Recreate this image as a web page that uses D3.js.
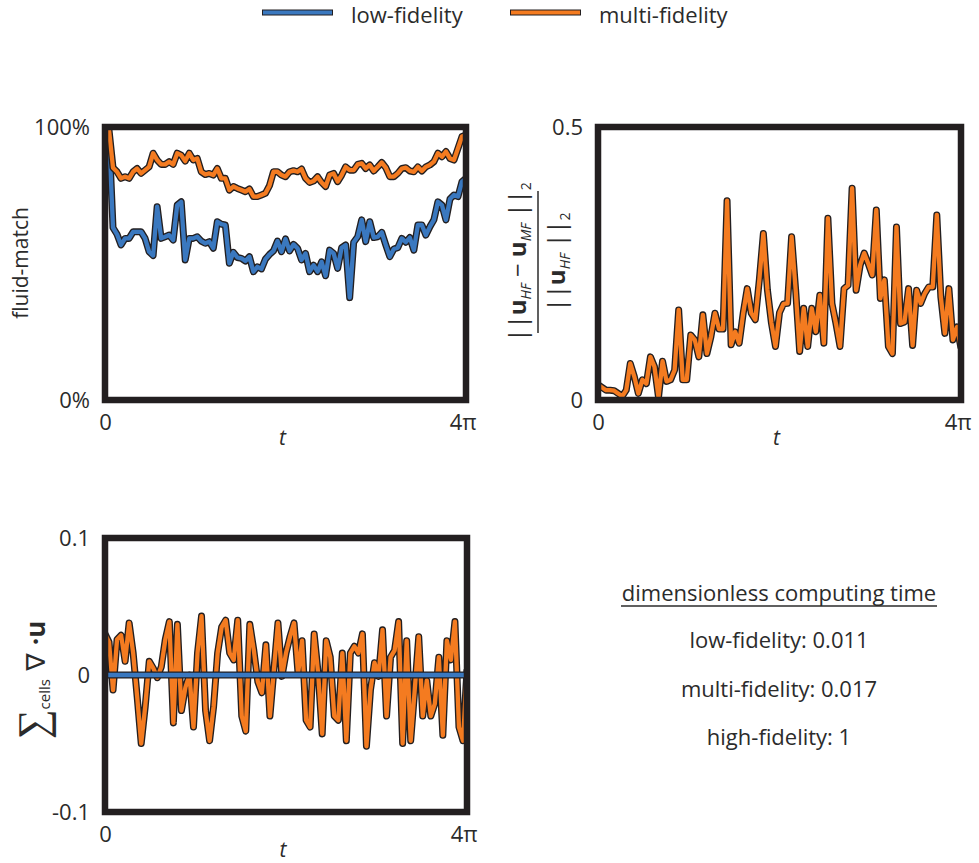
<!DOCTYPE html>
<html>
<head>
<meta charset="utf-8">
<script src="https://cdn.jsdelivr.net/npm/d3@7"></script>
<style>
  body { margin: 0; background: #fff; }
  text { font-family: "Open Sans", "Noto Sans", sans-serif; fill: #2b2b2b; }
</style>
</head>
<body>
<div id="chart"></div>
<script>
// legend / series names
const seriesNames = ["low-fidelity", "multi-fidelity"];
const seriesColors = ["#3a78bf", "#f47b20"];

// fluid-match in percent, sampled evenly over t in [0, 4pi]
const fluidMatchLow = [100, 97, 63.1, 60.7, 56.8, 59.2, 59.2, 61.6, 61.6, 61.6, 59.2, 54.3, 52.9, 70.8, 59.2, 59.8,
  60.4, 58.6, 71.4, 72.6, 51.3, 59.2, 59.2, 59.8, 58.2, 57.4, 58.0, 55.6, 65.3, 64.4, 64.1, 50.1, 54.1, 52.2, 51.9,
  50.9, 52.5, 47.0, 48.8, 48.0, 51.6, 53.3, 54.6, 58.2, 54.3, 59.0, 54.6, 57.0, 55.6, 51.3, 53.7, 47.0, 49.4, 47.0,
  50.6, 45.5, 54.9, 53.7, 48.2, 55.8, 56.8, 37.5, 57.8, 59.8, 66.0, 58.0, 65.3, 59.5, 59.8, 61.4, 56.8, 52.5, 55.3,
  55.8, 59.2, 57.8, 59.5, 54.9, 64.1, 64.1, 60.4, 63.5, 66.0, 72.6, 71.4, 66.0, 73.6, 75.1, 74.5, 80.0, 81.2];
const fluidMatchMulti = [100, 98.9, 85.1, 83.6, 81.2, 81.8, 81.2, 83.6, 84.8, 83.0, 84.2, 85.4, 90.4, 87.9, 86.3, 86.3,
  87.3, 86.3, 90.4, 89.7, 87.5, 90.4, 87.9, 88.5, 83.6, 82.6, 83.0, 82.4, 84.8, 81.2, 81.2, 76.9, 78.2, 77.5, 76.9,
  76.3, 77.3, 74.5, 74.5, 75.1, 75.7, 78.5, 83.6, 83.6, 82.4, 81.8, 83.6, 84.0, 83.6, 84.6, 81.2, 79.7, 80.2, 81.8,
  79.7, 78.2, 82.4, 83.0, 80.0, 82.4, 85.4, 84.2, 84.2, 86.3, 86.7, 84.8, 86.1, 83.9, 85.4, 87.0, 85.1, 81.8, 81.8,
  83.0, 84.8, 85.1, 83.9, 83.6, 85.4, 83.9, 85.4, 86.1, 87.3, 90.4, 89.1, 91.0, 88.5, 87.9, 92.2, 96.5, 97.1];

// relative L2 error of the multi-fidelity velocity
const errorMulti = [0.028, 0.023, 0.018, 0.018, 0.017, 0.012, 0.007, 0.018, 0.067, 0.043, 0.012, 0.037, 0.030, 0.079,
  0.061, 0.005, 0.071, 0.034, 0.037, 0.055, 0.165, 0.037, 0.037, 0.119, 0.110, 0.079, 0.156, 0.085, 0.116, 0.159,
  0.130, 0.130, 0.365, 0.101, 0.125, 0.104, 0.159, 0.204, 0.159, 0.147, 0.220, 0.305, 0.202, 0.141, 0.098, 0.160,
  0.176, 0.177, 0.299, 0.202, 0.089, 0.168, 0.098, 0.168, 0.125, 0.192, 0.104, 0.333, 0.177, 0.140, 0.098, 0.204,
  0.210, 0.388, 0.201, 0.247, 0.269, 0.250, 0.229, 0.348, 0.186, 0.220, 0.098, 0.085, 0.317, 0.140, 0.143, 0.204,
  0.100, 0.201, 0.177, 0.195, 0.207, 0.207, 0.339, 0.189, 0.122, 0.204, 0.110, 0.134, 0.095];

// summed divergence over cells
const divergenceLow = [0, 0, 0, 0, 0, 0, 0, 0, 0, 0, 0, 0, 0];
const divergenceMulti = [0.030, 0.024, -0.011, 0.026, 0.029, 0.010, 0.038, 0.016, -0.016, -0.050, -0.023, 0.010,
  0.005, -0.002, 0.006, 0.026, 0.039, -0.035, 0.037, -0.026, -0.009, 0.000, -0.038, 0.016, 0.043, -0.026, -0.048,
  -0.023, 0.016, 0.035, 0.040, 0.016, 0.011, 0.040, -0.030, -0.041, 0.037, 0.018, -0.005, -0.013, 0.022, -0.030,
  0.004, 0.038, -0.001, 0.016, 0.028, 0.038, 0.001, 0.025, -0.033, -0.038, 0.030, 0.001, -0.043, 0.025, 0.013,
  -0.030, -0.033, 0.016, -0.048, 0.016, 0.021, 0.016, 0.030, -0.052, -0.011, 0.009, -0.001, 0.033, -0.030, 0.013,
  0.018, 0.039, -0.050, 0.025, -0.048, -0.011, 0.028, -0.030, -0.004, -0.030, -0.021, 0.013, -0.044, 0.025, 0.011,
  0.039, -0.038, -0.048, 0.004];

const timingTitle = "dimensionless computing time";
const timingLines = ["low-fidelity: 0.011", "multi-fidelity: 0.017", "high-fidelity: 1"];

const tMax = 4 * Math.PI;
const xTicks = [0, tMax];
const xTickLabels = ["0", "4π"];

const width = 979, height = 863;
const outline = "#231f20";

const svg = d3.select("#chart").append("svg")
  .attr("width", width)
  .attr("height", height);

const panels = [
  { id: "match", left: 105, right: 466, top: 127, bottom: 400, domain: [0, 100],
    yTicks: [0, 100], yFormat: d => d + "%",
    series: [{ values: fluidMatchLow, color: seriesColors[0] }, { values: fluidMatchMulti, color: seriesColors[1] }] },
  { id: "error", left: 598, right: 961, top: 127, bottom: 400, domain: [0, 0.5],
    yTicks: [0, 0.5], yFormat: d => d === 0 ? "0" : "0.5",
    series: [{ values: errorMulti, color: seriesColors[1] }] },
  { id: "div", left: 105, right: 467, top: 538, bottom: 812, domain: [-0.1, 0.1],
    yTicks: [-0.1, 0, 0.1], yFormat: d => d === 0 ? "0" : String(d),
    series: [{ values: divergenceMulti, color: seriesColors[1] }, { values: divergenceLow, color: seriesColors[0] }] }
];

panels.forEach(p => {
  const x = d3.scaleLinear().domain([0, tMax]).range([p.left, p.right]);
  const y = d3.scaleLinear().domain(p.domain).range([p.bottom, p.top]);

  svg.append("clipPath").attr("id", "clip-" + p.id)
    .append("rect")
    .attr("x", p.left).attr("y", p.top)
    .attr("width", p.right - p.left).attr("height", p.bottom - p.top);

  const g = svg.append("g").attr("clip-path", `url(#clip-${p.id})`);

  p.series.forEach(s => {
    const line = d3.line()
      .x((d, i) => x(i * tMax / (s.values.length - 1)))
      .y(d => y(d));
    // dark outline under the coloured stroke
    g.append("path").datum(s.values)
      .attr("d", line)
      .attr("fill", "none")
      .attr("stroke", outline)
      .attr("stroke-width", 7)
      .attr("stroke-linejoin", "round");
    g.append("path").datum(s.values)
      .attr("d", line)
      .attr("fill", "none")
      .attr("stroke", s.color)
      .attr("stroke-width", 4.3)
      .attr("stroke-linejoin", "round");
  });

  svg.append("rect")
    .attr("x", p.left).attr("y", p.top)
    .attr("width", p.right - p.left).attr("height", p.bottom - p.top)
    .attr("fill", "none")
    .attr("stroke", outline)
    .attr("stroke-width", 6.5);

  const yAxis = svg.append("g")
    .attr("transform", `translate(${p.left},0)`)
    .call(d3.axisLeft(y).tickValues(p.yTicks).tickFormat(p.yFormat).tickSize(0).tickPadding(15));
  const xAxis = svg.append("g")
    .attr("transform", `translate(0,${p.bottom})`)
    .call(d3.axisBottom(x).tickValues(xTicks).tickFormat((d, i) => xTickLabels[i]).tickSize(0).tickPadding(14));
  [yAxis, xAxis].forEach(a => {
    a.select(".domain").remove();
    a.selectAll("text").attr("font-size", 22).attr("font-family", null).attr("fill", "#2b2b2b");
  });
  xAxis.selectAll("text").attr("dx", (d, i) => i === 1 ? "-0.15em" : 0);

  svg.append("text")
    .attr("x", (p.left + p.right) / 2 - 3)
    .attr("y", p.bottom + 37)
    .attr("dominant-baseline", "central")
    .attr("text-anchor", "middle")
    .attr("font-size", 21)
    .attr("font-style", "italic")
    .text("t");
});

// y labels
svg.append("text")
  .attr("transform", "translate(20,263) rotate(-90)")
  .attr("text-anchor", "middle")
  .attr("dominant-baseline", "central")
  .attr("font-size", 21)
  .text("fluid-match");

const frac = svg.append("g").attr("transform", "translate(538,262) rotate(-90)");
frac.append("line")
  .attr("x1", -71).attr("x2", 71)
  .attr("stroke", "#2b2b2b").attr("stroke-width", 1.5);
const num = frac.append("text").attr("y", -12).attr("text-anchor", "middle").attr("font-size", 24);
num.append("tspan").text("||");
num.append("tspan").attr("font-weight", "bold").text("u");
num.append("tspan").attr("font-size", 14).attr("font-style", "italic").attr("dy", 5).text("HF");
num.append("tspan").attr("dy", -5).text(" − ");
num.append("tspan").attr("font-weight", "bold").text("u");
num.append("tspan").attr("font-size", 14).attr("font-style", "italic").attr("dy", 5).text("MF");
num.append("tspan").attr("dy", -5).text(" ||");
num.append("tspan").attr("font-size", 14).attr("dy", 5).text("2");
const den = frac.append("text").attr("y", 27).attr("text-anchor", "middle").attr("font-size", 24);
den.append("tspan").text("||");
den.append("tspan").attr("font-weight", "bold").text("u");
den.append("tspan").attr("font-size", 14).attr("font-style", "italic").attr("dy", 5).text("HF");
den.append("tspan").attr("dy", -5).text(" ||");
den.append("tspan").attr("font-size", 14).attr("dy", 5).text("2");

const divLabel = svg.append("text")
  .attr("transform", "translate(47,680) rotate(-90)")
  .attr("text-anchor", "middle");
divLabel.append("tspan").attr("font-size", 42).attr("font-family", "DejaVu Sans").attr("font-weight", 200).text("∑");
divLabel.append("tspan").attr("font-size", 15).attr("dy", 3).text("cells");
divLabel.append("tspan").attr("font-size", 26).attr("dy", -5).attr("font-family", "DejaVu Sans").text(" ∇ ");
divLabel.append("tspan").attr("font-size", 26).attr("font-weight", "bold").text("·u");

// legend
const legend = svg.append("g");
const legendX = [262, 510];
seriesNames.forEach((name, i) => {
  legend.append("line")
    .attr("x1", legendX[i]).attr("x2", legendX[i] + 71)
    .attr("y1", 12.5).attr("y2", 12.5)
    .attr("stroke", outline).attr("stroke-width", 6);
  legend.append("line")
    .attr("x1", legendX[i] + 1).attr("x2", legendX[i] + 70)
    .attr("y1", 12.5).attr("y2", 12.5)
    .attr("stroke", seriesColors[i]).attr("stroke-width", 4);
  legend.append("text")
    .attr("x", legendX[i] + 89)
    .attr("y", 14)
    .attr("dominant-baseline", "central")
    .attr("font-size", 22)
    .text(name);
});

// computing time block
const info = svg.append("g").attr("transform", "translate(779,0)");
info.append("text")
  .attr("y", 592)
  .attr("text-anchor", "middle")
  .attr("dominant-baseline", "central")
  .attr("font-size", 22)
  .text(timingTitle);
info.append("line")
  .attr("x1", -158).attr("x2", 158)
  .attr("y1", 606).attr("y2", 606)
  .attr("stroke", "#2b2b2b").attr("stroke-width", 1.3);
info.selectAll("text.line")
  .data(timingLines)
  .enter()
  .append("text")
  .attr("class", "line")
  .attr("y", (d, i) => 639 + i * 48.5)
  .attr("text-anchor", "middle")
  .attr("dominant-baseline", "central")
  .attr("font-size", 22)
  .text(d => d);
</script>
</body>
</html>
